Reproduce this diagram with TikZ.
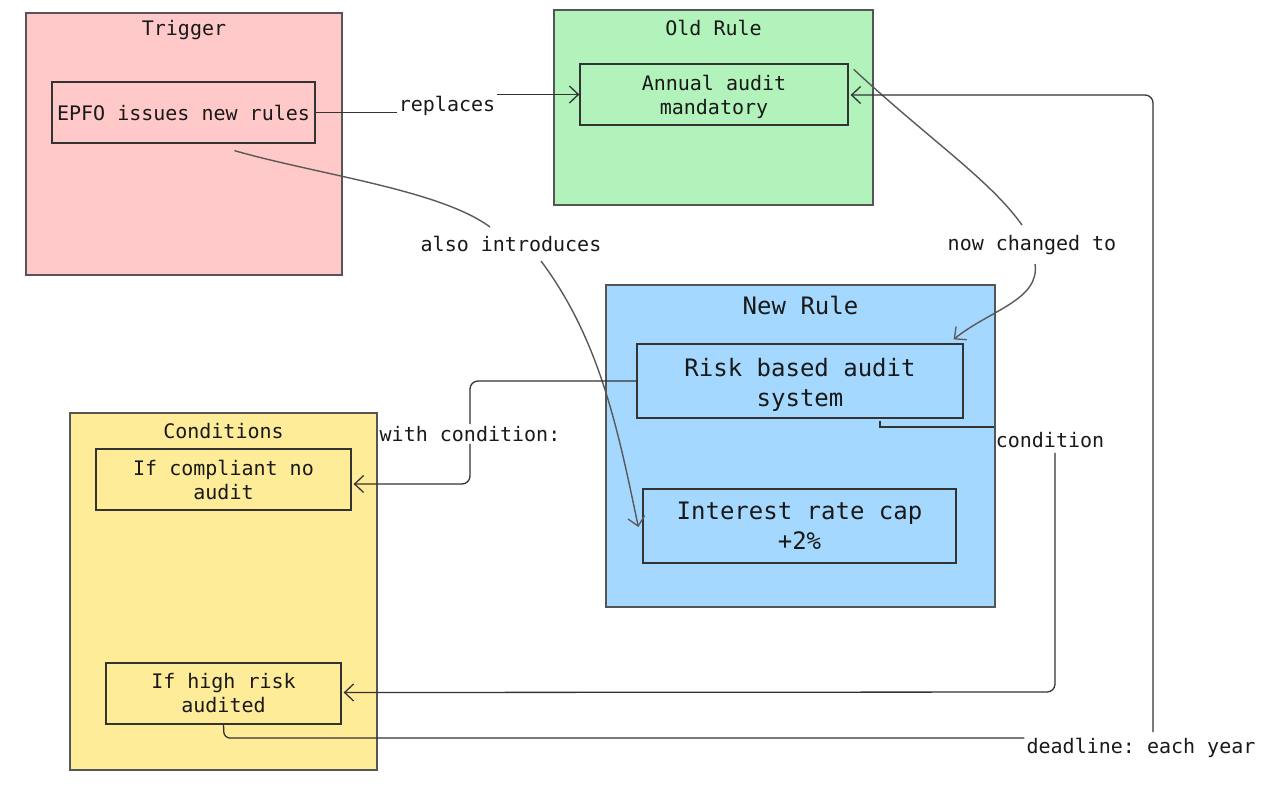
\documentclass[tikz,border=0pt]{standalone}
\usepackage{fontspec}
\setmonofont{DejaVu Sans Mono}
\usetikzlibrary{arrows.meta,calc}
\definecolor{pinkc}{HTML}{FFC9C9}
\definecolor{greenc}{HTML}{B2F2BB}
\definecolor{bluec}{HTML}{A5D8FF}
\definecolor{yellowc}{HTML}{FFEC99}
\definecolor{edgec}{HTML}{333333}
\definecolor{clusterc}{HTML}{555555}
\begin{document}
\begin{tikzpicture}[x=1pt,y=-1pt,
  every node/.style={font=\ttfamily\fontsize{20}{24}\selectfont, text=black!90},
  big/.style={font=\ttfamily\fontsize{24}{30}\selectfont},
  cluster/.style={draw=clusterc, line width=1.3pt, inner sep=0},
  box/.style={draw=edgec, line width=1.3pt, align=center, inner sep=0},
  lbl/.style={inner sep=2pt},
  edge/.style={draw=edgec, line width=1.3pt},
  cedge/.style={draw=black!65, line width=1.4pt},
  tip/.style={-{Straight Barb[length=9pt,width=17pt,line width=1.3pt]}}
]
\useasboundingbox (0,0) rectangle (1284,785);
% clusters
\node[cluster, fill=pinkc, minimum width=316, minimum height=262] (trigger) at (184,144) {};
\node (ttrig) at (184,30) {Trigger};
\node[cluster, fill=greenc, minimum width=319, minimum height=195] (old) at (713.5,107.5) {};
\node (told) at (713.5,28) {Old Rule};
\node[cluster, fill=bluec, minimum width=389, minimum height=322] (new) at (800.5,446) {};
\node[big] (tnew) at (800.5,305) {New Rule};
\node[cluster, fill=yellowc, minimum width=307, minimum height=357] (cond) at (223.5,591.5) {};
\node (tcond) at (223.5,431) {Conditions};
% nodes
\node[box, minimum width=263, minimum height=61] (epfo) at (183.5,112.5) {EPFO issues new rules};
\node[box, minimum width=268, minimum height=61] (annual) at (714,94.5) {};
\node (annualt) at (714,96.5) [align=center] {Annual audit\\mandatory};
\node[box, minimum width=326, minimum height=74] (risk) at (800,381) {};
\node[big, align=center] (riskt) at (800,384.5) {Risk based audit\\system};
\node[box, big, minimum width=313, minimum height=74] (interest) at (799.5,526) {Interest rate cap\\+2\%};
\node[box, minimum width=255, minimum height=61] (compl) at (223.5,479.5) {If compliant no\\audit};
\node[box, minimum width=235, minimum height=61] (hr) at (223.5,693.5) {If high risk\\audited};
% labels
\node[lbl] (l1) at (447,106) {replaces};
\node[lbl] (l2) at (511,244) {also introduces};
\node[lbl] (l3) at (1032,245) {now changed to};
\node[lbl] (l4) at (470,434) {with condition:};
\node[lbl] (l5) at (1050,440) {condition};
\node[lbl] (l6) at (1141,748) {deadline: each year};
% edges
\draw[edge] (epfo.east) -- (l1.west |- epfo.east);
\draw[edge,tip] (l1.east |- annual.west) -- (annual.west);

\draw[cedge] ($(epfo.south)+(51,7)$) .. controls (320,175) and (440,190) .. ($(l2.north)+(-21,-7)$);
\draw[cedge,tip] ($(l2.south)+(30,7)$) .. controls (600,340) and (618,430) .. ($(interest.west)+(-4,1)$);

\draw[cedge] ($(annual.north east)+(5,6)$) .. controls (930,140) and (990,180) .. ($(l3.north)+(-10,-8)$);
\draw[cedge,tip] ($(l3.south)+(3,7)$) .. controls (1040,300) and (990,310) .. ($(risk.north east)+(-10,-4)$);

\draw[edge,rounded corners=8pt] (risk.west) -- (470,381) -- (l4.north);
\draw[edge,tip,rounded corners=8pt] (l4.south) -- (470,484) -- ($(compl.east)+(2,4.5)$);

\draw[edge] ($(risk.south)+(80,2)$) -- (880,427) -- (l5.west |- 0,427);
\draw[edge,tip,rounded corners=8pt] ($(l5.south)+(5,3)$) -- (1055,692) -- ($(hr.east)+(2,-1)$);

\draw[edge,rounded corners=6pt] (hr.south) -- (224,738) -- (l6.west |- 0,738);
\draw[edge,tip,rounded corners=8pt] ($(l6.north)+(12,-4)$) -- (1153,95) -- ($(annual.east)+(2,0.5)$);
\end{tikzpicture}
\end{document}
